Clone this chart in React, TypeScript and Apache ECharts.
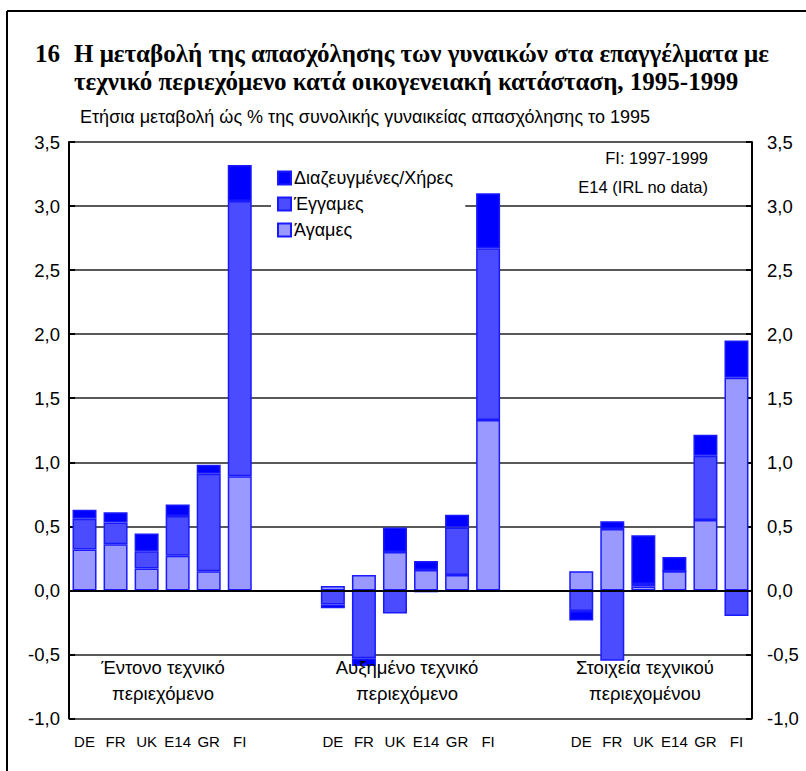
import React, { useEffect, useRef } from "react";
import * as echarts from "echarts";

const countries = ["DE", "FR", "UK", "E14", "GR", "FI"];
const groupLabels = ["Έντονο τεχνικό\nπεριεχόμενο", "Αυξημένο τεχνικό\nπεριεχόμενο", "Στοιχεία τεχνικού\nπεριεχομένου"];
const seriesNames = ["Άγαμες", "Έγγαμες", "Διαζευγμένες/Χήρες"];

// Per group values (DE, FR, UK, E14, GR, FI)
const agames = [
  [0.32, 0.36, 0.17, 0.27, 0.15, 0.89],
  [0.035, 0.12, 0.30, 0.16, 0.12, 1.33],
  [0.15, 0.48, 0.03, 0.15, 0.55, 1.66],
];
const eggames = [
  [0.24, 0.17, 0.135, 0.31, 0.76, 2.15],
  [-0.11, -0.53, -0.18, -0.015, 0.37, 1.34],
  [-0.16, -0.55, 0.02, 0, 0.50, -0.20],
];
const diaz = [
  [0.07, 0.08, 0.14, 0.09, 0.07, 0.28],
  [-0.03, -0.06, 0.19, 0.07, 0.10, 0.43],
  [-0.075, 0.06, 0.38, 0.11, 0.165, 0.29],
];

const yTicks = { min: -1, max: 3.5, interval: 0.5 };

const title1 = "Η μεταβολή της απασχόλησης των γυναικών στα επαγγέλματα με";
const title2 = "τεχνικό περιεχόμενο κατά οικογενειακή κατάσταση, 1995-1999";
const subtitle = "Ετήσια μεταβολή ώς % της συνολικής γυναικείας απασχόλησης το 1995";
const notes = ["FI: 1997-1999", "E14 (IRL no data)"];

const GAP = 2;
function buildCategories(): string[] {
  const out: string[] = [];
  for (let g = 0; g < 3; g++) {
    countries.forEach((c) => out.push(c));
    if (g < 2) for (let k = 0; k < GAP; k++) out.push("");
  }
  return out;
}
function buildSeries(groups: number[][]): (number | null)[] {
  const out: (number | null)[] = [];
  groups.forEach((vals, g) => {
    vals.forEach((v) => out.push(v));
    if (g < 2) for (let k = 0; k < GAP; k++) out.push(null);
  });
  return out;
}

const SANS = "'Liberation Sans', Arial, sans-serif";
const SERIF = "'Liberation Serif', 'Times New Roman', serif";
const fmt = (v: number) => v.toFixed(1).replace(".", ",");

export default function App() {
  const ref = useRef<HTMLDivElement>(null);
  useEffect(() => {
    if (!ref.current) return;
    const chart = echarts.init(ref.current, undefined, { renderer: "svg" });
    const categories = buildCategories();
    const colors = ["#9999FF", "#4B4BFF", "#0000FF"];
    const dataSets = [buildSeries(agames), buildSeries(eggames), buildSeries(diaz)];
    const series: any[] = dataSets.map((d, i) => ({
      name: seriesNames[i],
      type: "bar",
      stack: "total",
      data: d,
      barWidth: 24,
      itemStyle: { color: colors[i], borderColor: "#1a1aff", borderWidth: 1.5 },
      ...(i === 2
        ? {
            markLine: {
              silent: true,
              symbol: "none",
              label: { show: false },
              lineStyle: { color: "#000", width: 2, type: "solid" },
              data: [{ yAxis: 0 }],
              z: 10,
            },
          }
        : {}),
    }));

    const groupX = [163, 407, 645];
    const graphics: any[] = [
      { type: "line", shape: { x1: 7, y1: 11, x2: 806, y2: 11 }, style: { stroke: "#000", lineWidth: 2 } },
      { type: "line", shape: { x1: 7, y1: 11, x2: 7, y2: 771 }, style: { stroke: "#000", lineWidth: 2 } },
      { type: "text", x: 35, y: 53, style: { text: "16", font: `bold 25px ${SERIF}`, fill: "#000", textVerticalAlign: "middle" } },
      { type: "text", x: 74, y: 53, style: { text: title1, font: `bold 25px ${SERIF}`, fill: "#000", textVerticalAlign: "middle" } },
      { type: "text", x: 74, y: 81, style: { text: title2, font: `bold 25px ${SERIF}`, fill: "#000", textVerticalAlign: "middle" } },
      { type: "text", x: 80, y: 117, style: { text: subtitle, font: `18px ${SANS}`, fill: "#000", textVerticalAlign: "middle" } },
      { type: "text", x: 708, y: 158, style: { text: notes[0], font: `16.5px ${SANS}`, fill: "#000", textAlign: "right", textVerticalAlign: "middle" } },
      { type: "text", x: 708, y: 187, style: { text: notes[1], font: `16.5px ${SANS}`, fill: "#000", textAlign: "right", textVerticalAlign: "middle" } },
    ];
    groupLabels.forEach((t, i) => {
      graphics.push({
        type: "text",
        x: groupX[i],
        y: 680,
        style: { text: t, font: `18.5px ${SANS}`, fill: "#000", textAlign: "center", textVerticalAlign: "middle", lineHeight: 26 },
        z: 5,
      });
    });

    const yAxisBase = {
      type: "value",
      min: yTicks.min,
      max: yTicks.max,
      interval: yTicks.interval,
      axisLine: { show: true, lineStyle: { color: "#000", width: 2 } },
      axisTick: { show: true, inside: true, length: 6, lineStyle: { color: "#000", width: 2 } },
      axisLabel: { formatter: fmt, fontSize: 18.5, fontFamily: SANS, color: "#000" },
    };

    chart.setOption({
      animation: false,
      backgroundColor: "#fff",
      grid: { left: 69, right: 54, top: 142, bottom: 52.5, containLabel: false },
      legend: {
        data: ["Διαζευγμένες/Χήρες", "Έγγαμες", "Άγαμες"],
        orient: "vertical",
        left: 271,
        top: 163,
        padding: [6, 12, 6, 6],
        backgroundColor: "#fff",
        itemWidth: 13,
        itemHeight: 13,
        itemGap: 8,
        icon: "rect",
        textStyle: { fontSize: 18, fontFamily: SANS, color: "#000", padding: [0, 0, 0, -2] },
        selectedMode: false,
      },
      xAxis: {
        type: "category",
        data: categories,
        axisLine: { show: false, onZero: false },
        axisTick: { show: false },
        axisLabel: { interval: 0, fontSize: 15, fontFamily: SANS, color: "#000", margin: 15 },
        splitLine: { show: false },
      },
      yAxis: [
        {
          ...yAxisBase,
          position: "left",
          axisLabel: { ...yAxisBase.axisLabel, margin: 9 },
          splitLine: { show: true, lineStyle: { color: "#222", width: 1.5 } },
        },
        {
          ...yAxisBase,
          position: "right",
          axisLabel: { ...yAxisBase.axisLabel, margin: 15 },
          splitLine: { show: false },
        },
      ],
      series,
      graphic: graphics,
    });
    return () => chart.dispose();
  }, []);
  return <div ref={ref} style={{ position: "absolute", left: 0, top: 0, width: 806, height: 771 }} />;
}
